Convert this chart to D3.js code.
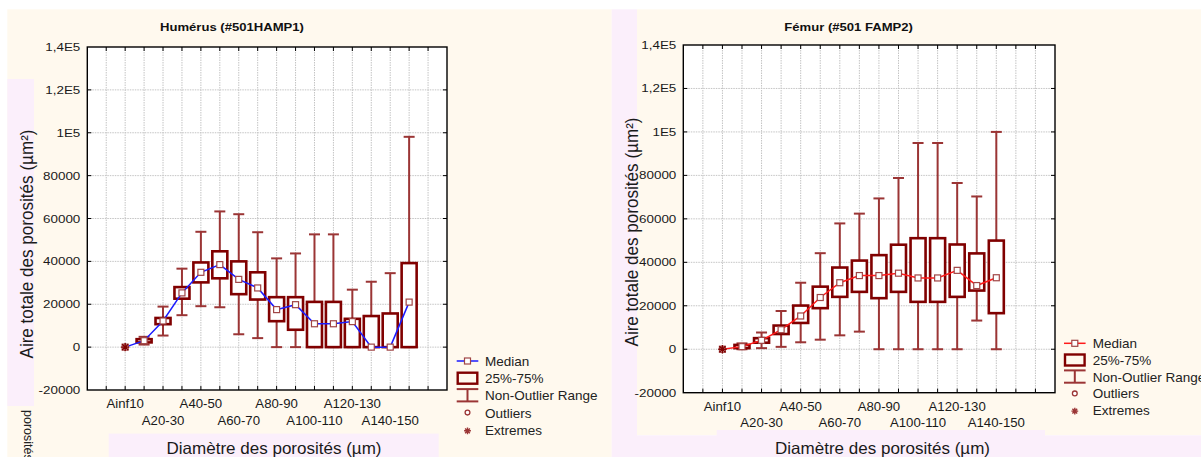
<!DOCTYPE html>
<html><head><meta charset="utf-8">
<script src="https://cdn.jsdelivr.net/npm/d3@7"></script>
<style>
body{margin:0;background:#fff;}
svg{display:block;font-family:"Liberation Sans",Arial,Helvetica,sans-serif;}
</style>
</head><body>
<svg id="c" width="1201" height="457"></svg>
<script>
// ---------- DATA ----------
const categoriesHum = ["Ainf10","A10-20","A20-30","A30-40","A40-50","A50-60","A60-70","A70-80","A80-90","A90-100","A100-110","A110-120","A120-130","A130-140","A140-150","Asup150"];
const categoriesFem = ["Ainf10","A10-20","A20-30","A30-40","A40-50","A50-60","A60-70","A70-80","A80-90","A90-100","A100-110","A110-120","A120-130","A130-140","A140-150"];

const yTickValues = [-20000,0,20000,40000,60000,80000,100000,120000,140000];
const yTickLabels = ["-20000","0","20000","40000","60000","80000","1E5","1,2E5","1,4E5"];

// Humérus (#501HAMP1)
const humMin = [0, 1200, 5400, 14900, 19100, 18600, 6000, 4200, 0, 0, 0, 0, 0, 0, 0, 0];
const humQ1  = [0, 2200, 10700, 22600, 30200, 32100, 24700, 22200, 12100, 8100, 0, 0, 0, 0, 0, 0];
const humMed = [0, 3000, 12200, 25300, 34900, 38500, 31600, 27600, 17500, 19800, 10900, 10900, 11900, 0, 0, 21000];
const humQ3  = [0, 3700, 13600, 28000, 39500, 44700, 40000, 34900, 23300, 23300, 21100, 21100, 13200, 14500, 15700, 39200];
const humMax = [0, 4800, 18900, 36600, 53800, 63300, 62000, 53600, 41400, 43700, 52600, 52600, 26800, 30500, 34500, 98100];
const humExtremes = [[0, 0]];   // [category index, value]

// Fémur (#501 FAMP2)
const femMin = [0, 0, 500, 1100, 3200, 4400, 6400, 8100, 0, 0, 0, 0, 0, 13200, 0];
const femQ1  = [0, 500, 3000, 7000, 12100, 18900, 24100, 26400, 23500, 26400, 21800, 21800, 24100, 27000, 16600];
const femMed = [0, 1200, 4100, 9000, 15300, 23800, 30600, 33900, 33900, 35000, 32800, 32800, 36300, 29300, 32900];
const femQ3  = [0, 2000, 5100, 10900, 20100, 28800, 37600, 40800, 43300, 48100, 51100, 51100, 48200, 44100, 50000];
const femMax = [0, 2700, 7700, 17600, 30600, 44200, 57900, 62400, 69400, 78800, 94900, 94900, 76500, 70300, 100000];
const femExtremes = [[0, 0]];

const legendLabels = ["Median","25%-75%","Non-Outlier Range","Outliers","Extremes"];

// ---------- STYLE ----------
const CREAM = "#FFF9EE", PINK = "#FBEFFB";
const BOX = "#800000", WHISK = "#9B3535", MARK = "#A04545";

const svg = d3.select("#c");

// background panels
function rect(x,y,w,h,f){ svg.append("rect").attr("x",x).attr("y",y).attr("width",w).attr("height",h).attr("fill",f); }
rect(7.3, 9.3, 604.4, 447.7, CREAM);
rect(7.3, 79, 26.7, 327, PINK);
rect(108.7, 433.6, 330, 23.4, PINK);
rect(611.7, 9.3, 25.3, 447.7, PINK);
rect(637, 9.3, 564, 426, CREAM);
rect(637, 435.3, 564, 21.7, PINK);
rect(716.7, 430, 328.3, 6, PINK);

// clipped fragment of a label at bottom-left
svg.append("text").attr("transform","translate(24,410) rotate(90)")
  .attr("font-size",12.5).attr("fill","#222").text("porosités (µm²)");

function stretchText(sel, x, y, sx, anchor){
  sel.attr("transform",`translate(${x},${y}) scale(${sx},1)`).attr("text-anchor",anchor||"start");
}

function star(g, cx, cy, r, color){
  const p = d3.path();
  for (let k=0;k<4;k++){
    const a = k*Math.PI/4;
    p.moveTo(cx - r*Math.cos(a), cy - r*Math.sin(a));
    p.lineTo(cx + r*Math.cos(a), cy + r*Math.sin(a));
  }
  g.append("path").attr("d",p.toString()).attr("stroke",color).attr("stroke-width",1.4).attr("fill","none");
}

function drawChart(o){
  const g = svg.append("g");
  const x = d3.scaleLinear().domain([-2,17]).range([o.left,o.right]);
  const y = d3.scaleLinear().domain([-20000,140000]).range([o.bottom,o.top]);

  g.append("rect").attr("x",o.left).attr("y",o.top).attr("width",o.right-o.left)
    .attr("height",o.bottom-o.top).attr("fill","#fff");

  // grid
  const gridX = d3.range(-1,17);
  const gridY = yTickValues.filter(v => v > -20000 && v < 140000);
  g.selectAll(".gx").data(gridX).join("line")
    .attr("x1",d=>x(d)).attr("x2",d=>x(d)).attr("y1",o.top).attr("y2",o.bottom)
    .attr("stroke","#c4c4c4").attr("stroke-width",1).attr("stroke-dasharray","1.5,1");
  g.selectAll(".gy").data(gridY).join("line")
    .attr("y1",d=>y(d)).attr("y2",d=>y(d)).attr("x1",o.left).attr("x2",o.right)
    .attr("stroke","#c4c4c4").attr("stroke-width",1).attr("stroke-dasharray","1.5,1");

  // inward ticks
  const tl = 4;
  gridX.forEach(d=>{
    g.append("line").attr("x1",x(d)).attr("x2",x(d)).attr("y1",o.top).attr("y2",o.top+tl).attr("stroke","#000");
    g.append("line").attr("x1",x(d)).attr("x2",x(d)).attr("y1",o.bottom).attr("y2",o.bottom-tl).attr("stroke","#000");
  });
  gridY.forEach(d=>{
    g.append("line").attr("y1",y(d)).attr("y2",y(d)).attr("x1",o.left).attr("x2",o.left+tl).attr("stroke","#000");
    g.append("line").attr("y1",y(d)).attr("y2",y(d)).attr("x1",o.right).attr("x2",o.right-tl).attr("stroke","#000");
  });
  g.append("rect").attr("x",o.left).attr("y",o.top).attr("width",o.right-o.left)
    .attr("height",o.bottom-o.top).attr("fill","none").attr("stroke","#000").attr("stroke-width",1.4);

  // y tick labels
  yTickValues.forEach((v,i)=>{
    const t = g.append("text").attr("font-size",11).attr("fill","#1a1a1a").text(yTickLabels[i]);
    stretchText(t, o.left-7, y(v)+4, 1.22, "end");
  });

  // x labels (every other category, staggered)
  o.cats.forEach((c,i)=>{
    if (i%2!==0) return;
    const row = (i/2)%2;
    const t = g.append("text").attr("font-size",12).attr("fill","#1a1a1a").text(c);
    stretchText(t, x(i), o.bottom + (row===0?18:34.5), 1.1, "middle");
  });

  // whiskers
  const hw = 7.5, cw = 5.5;
  o.cats.forEach((c,i)=>{
    if (o.max[i] > o.min[i]){
      g.append("line").attr("x1",x(i)).attr("x2",x(i)).attr("y1",y(o.max[i])).attr("y2",y(o.min[i]))
        .attr("stroke",WHISK).attr("stroke-width",2);
      [o.max[i], o.min[i]].forEach(v=>{
        g.append("line").attr("x1",x(i)-cw).attr("x2",x(i)+cw).attr("y1",y(v)).attr("y2",y(v))
          .attr("stroke",WHISK).attr("stroke-width",2);
      });
    }
    if (o.q3[i] > o.q1[i]){
      g.append("rect").attr("x",x(i)-hw).attr("width",2*hw)
        .attr("y",y(o.q3[i])).attr("height",y(o.q1[i])-y(o.q3[i]))
        .attr("fill","#fff").attr("stroke",BOX).attr("stroke-width",2.6);
    }
  });

  // median line
  const line = d3.line().x((d,i)=>x(i)).y(d=>y(d));
  g.append("path").attr("d",line(o.med)).attr("fill","none").attr("stroke",o.lineColor).attr("stroke-width",1.5);
  o.med.forEach((v,i)=>{
    g.append("rect").attr("x",x(i)-3).attr("y",y(v)-3).attr("width",6).attr("height",6)
      .attr("fill","#fff").attr("stroke",MARK).attr("stroke-width",1.2);
  });
  o.extremes.forEach(([i,v])=>{
    star(g, x(i), y(v), 4.2, BOX);
  });

  // title
  const tt = g.append("text").attr("font-size",11).attr("font-weight","bold").attr("fill","#111").text(o.title);
  stretchText(tt, o.titleX, 30.6, 1.19, "start");

  // y title
  g.append("text").attr("transform",`translate(${o.ytX},${o.ytY}) rotate(-90)`)
    .attr("text-anchor","middle").attr("font-size",18).attr("fill","#1a1a1a")
    .attr("textLength",229).attr("lengthAdjust","spacingAndGlyphs")
    .text("Aire totale des porosités (µm²)");
  // x title
  g.append("text").attr("x",o.xtX).attr("y",454).attr("text-anchor","middle")
    .attr("font-size",16.5).attr("fill","#1a1a1a")
    .attr("textLength",215).attr("lengthAdjust","spacingAndGlyphs")
    .text("Diamètre des porosités (µm)");

  // legend
  const L = o.legend;
  legendLabels.forEach((lab,k)=>{
    const cy = L.y0 + k*L.dy;
    const x0 = L.x0, x1 = L.x0+21.6, xm = (x0+x1)/2;
    if (k===0){
      g.append("line").attr("x1",x0).attr("x2",x1).attr("y1",cy).attr("y2",cy).attr("stroke",o.lineColor).attr("stroke-width",1.5);
      g.append("rect").attr("x",xm-3).attr("y",cy-3).attr("width",6).attr("height",6).attr("fill","#fff").attr("stroke",MARK).attr("stroke-width",1.2);
    } else if (k===1){
      g.append("rect").attr("x",x0+1).attr("y",cy-5.5).attr("width",x1-x0-2).attr("height",11).attr("fill","none").attr("stroke",BOX).attr("stroke-width",2.4);
    } else if (k===2){
      g.append("line").attr("x1",x0).attr("x2",x1).attr("y1",cy-6.3).attr("y2",cy-6.3).attr("stroke",WHISK).attr("stroke-width",2);
      g.append("line").attr("x1",x0).attr("x2",x1).attr("y1",cy+6).attr("y2",cy+6).attr("stroke",WHISK).attr("stroke-width",2);
      g.append("line").attr("x1",xm).attr("x2",xm).attr("y1",cy-6.3).attr("y2",cy+6).attr("stroke",WHISK).attr("stroke-width",2);
    } else if (k===3){
      g.append("circle").attr("cx",xm).attr("cy",cy).attr("r",2.4).attr("fill","#fff").attr("stroke",WHISK).attr("stroke-width",1.3);
    } else {
      star(g, xm, cy+1, 3.4, WHISK);
    }
    g.append("text").attr("x",L.tx).attr("y",cy+5).attr("font-size",13.5).attr("fill","#222").text(lab);
  });
}

drawChart({
  left:87.3, right:447, top:47, bottom:390,
  cats:categoriesHum, min:humMin, q1:humQ1, med:humMed, q3:humQ3, max:humMax, extremes:humExtremes,
  lineColor:"#1a1aff", title:"Humérus (#501HAMP1)", titleX:160,
  ytX:32.5, ytY:244, xtX:274,
  legend:{x0:456.7, y0:361, dy:17.2, tx:485}
});
drawChart({
  left:683.3, right:1055, top:45, bottom:392.7,
  cats:categoriesFem, min:femMin, q1:femQ1, med:femMed, q3:femQ3, max:femMax, extremes:femExtremes,
  lineColor:"#ff1a1a", title:"Fémur (#501 FAMP2)", titleX:784.3,
  ytX:637.5, ytY:232, xtX:882.5,
  legend:{x0:1064, y0:343.3, dy:16.7, tx:1092.7}
});
</script>
</body></html>
